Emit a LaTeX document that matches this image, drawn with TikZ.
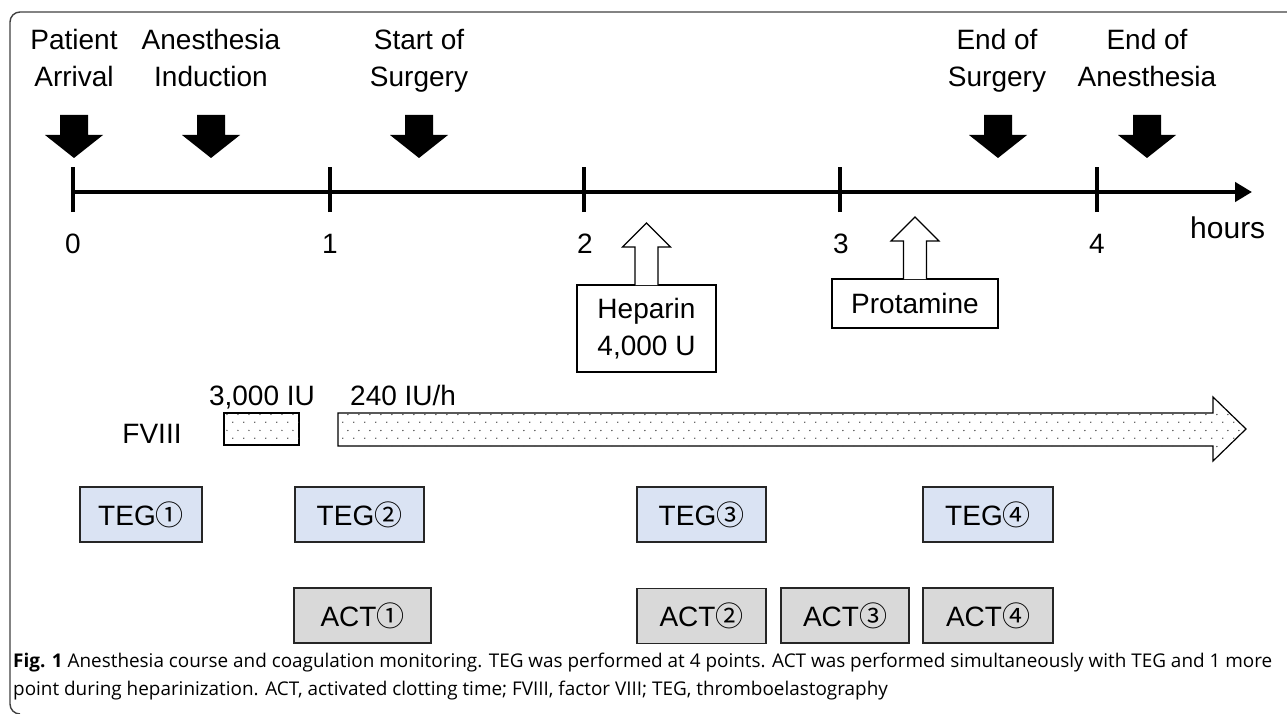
\documentclass[tikz,border=0pt]{standalone}
\usepackage{fontspec}
\setmainfont{Liberation Sans}
\newfontfamily\circfont{Noto Sans CJK JP}
\newfontfamily\capfont{Open Sans}
\usetikzlibrary{patterns.meta,arrows.meta}
\tikzdeclarepattern{name=sdots, type=uncolored,
  bounding box={(0pt,0pt) and (11pt,16pt)}, tile size={(11pt,16pt)},
  code={\fill (2pt,4pt) circle (0.75pt); \fill (7.5pt,12pt) circle (0.75pt);}}
\newcommand{\cn}[1]{{\circfont #1}}
\definecolor{tegblue}{HTML}{DAE3F3}
\definecolor{actgray}{HTML}{D9D9D9}
\tikzset{
  big/.style={font=\fontsize{28}{37}\selectfont, align=center, inner sep=0pt},
  frame/.style={line width=1.4pt, draw=black!75},
  tick/.style={line width=4pt},
  blkarrow/.pic={\fill (-14,0) -- (14,0) -- (14,20) -- (29,20) -- (0,43) -- (-29,20) -- (-14,20) -- cycle;},
  hollowup/.pic={\draw[line width=1.2pt, fill=white] (-11.5,62) -- (-11.5,24) -- (-24,24) -- (0,0) -- (24,24) -- (11.5,24) -- (11.5,62);},
  drugbox/.style={draw, line width=1.2pt, fill=white, inner sep=0pt, font=\fontsize{28}{37}\selectfont, align=center},
  tegbox/.style={draw=black!85, line width=1.4pt, fill=tegblue, inner sep=0pt, minimum height=55pt, font=\fontsize{28}{34}\selectfont},
  actbox/.style={draw=black!85, line width=1.4pt, fill=actgray, inner sep=0pt, minimum height=55pt, font=\fontsize{28}{34}\selectfont},
  dotfill/.style={draw, line width=1.2pt, fill=white, postaction={pattern={sdots}, pattern color=black!80}},
}
\begin{document}
\begin{tikzpicture}[x=1pt,y=-1pt]
\useasboundingbox (0,0) rectangle (1287,714);
% frame
\draw[frame] (1287,12) -- (20,12) arc[start angle=270, end angle=180, radius=10] -- (10,704) arc[start angle=180, end angle=90, radius=10];
% timeline
\coordinate (t0) at (73,192);
\coordinate (t1) at (330,192);
\coordinate (t2) at (584,192);
\coordinate (t3) at (840,192);
\coordinate (t4) at (1097,192);
\coordinate (tend) at (1252,192);
\draw[line width=4.5pt, -{Triangle[length=17pt,width=19pt]}] (t0) -- (tend);
\foreach \t in {t0,t1,t2,t3,t4}{\draw[tick] ([yshift=-20pt]\t) -- ([yshift=25pt]\t);}
% ticks labels
\node[big, anchor=base] (l0) at (73,253) {0};
\node[big, anchor=base] (l1) at (330,253) {1};
\node[big, anchor=base] (l2) at (585,253) {2};
\node[big, anchor=base] (l3) at (841,253) {3};
\node[big, anchor=base] (l4) at (1097,253) {4};
\node[big, anchor=base west, font=\fontsize{30}{37}\selectfont] (hours) at (1190,238) {hours};
% event labels (base = last line)
\node[big, anchor=base] (e0) at (74,87) {Patient\\Arrival};
\node[big, anchor=base] (e1) at (211,87) {Anesthesia\\Induction};
\node[big, anchor=base] (e2) at (419,87) {Start of\\Surgery};
\node[big, anchor=base] (e3) at (997,87) {End of\\Surgery};
\node[big, anchor=base] (e4) at (1147,87) {End of\\Anesthesia};
\foreach \x in {74,211,419,998,1147}{\pic at (\x,115) {blkarrow};}
% drugs
\node[drugbox, minimum width=139pt, minimum height=87pt] (hep) at (646.5,328.5) {Heparin\\4,000 U};
\node[drugbox, minimum width=166pt, minimum height=49pt] (prot) at (915,303.5) {Protamine};
\pic at (646.5,223) {hollowup};
\pic at (915,217) {hollowup};
% FVIII
\node[big, anchor=base] (fviii) at (152,443) {FVIII};
\node[big, anchor=base] (bolus) at (262,405) {3,000 IU};
\node[big, anchor=base west] (rate) at (350,405) {240 IU/h};
\draw[dotfill] (224,413) rectangle (299,445);
\draw[dotfill] (338,413) -- (1213,413) -- (1213,397) -- (1246,429) -- (1213,461) -- (1213,446) -- (338,446) -- cycle;
% TEG / ACT
\node[tegbox, minimum width=122pt] (teg1) at (141,514.5) {TEG\cn{①}};
\node[tegbox, minimum width=129pt] (teg2) at (359.5,514.5) {TEG\cn{②}};
\node[tegbox, minimum width=129pt] (teg3) at (701.5,514.5) {TEG\cn{③}};
\node[tegbox, minimum width=130pt] (teg4) at (988,514.5) {TEG\cn{④}};
\node[actbox, minimum width=137pt] (act1) at (362.5,615.5) {ACT\cn{①}};
\node[actbox, minimum width=129pt] (act2) at (701.5,616) {ACT\cn{②}};
\node[actbox, minimum width=128pt] (act3) at (845,615.5) {ACT\cn{③}};
\node[actbox, minimum width=130pt] (act4) at (988,615.5) {ACT\cn{④}};
% caption (base = last line)
\node[anchor=base west, inner sep=0pt, align=left, font=\capfont\fontsize{18.9}{28}\selectfont] (cap) at (13,695)
 {\textbf{Fig. 1} Anesthesia course and coagulation monitoring. TEG was performed at 4 points. ACT was performed simultaneously with TEG and 1 more\\point during heparinization. ACT, activated clotting time; FVIII, factor VIII; TEG, thromboelastography};
\end{tikzpicture}
\end{document}
